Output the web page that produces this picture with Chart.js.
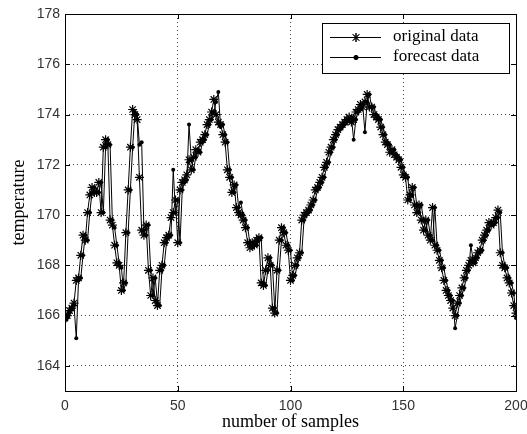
<!DOCTYPE html>
<html>
<head>
<meta charset="utf-8">
<script src="https://cdn.jsdelivr.net/npm/chart.js@4.4.1/dist/chart.umd.min.js"></script>
<style>
  body { margin: 0; background: #fff; }
  #wrap { width: 527px; height: 434px; }
</style>
</head>
<body>
<div id="wrap"><canvas id="myChart" width="527" height="434"></canvas></div>
<script>
// sample values, index = sample number (0..200)
const originalData = [
    165.9, 166.0, 166.2, 166.3, 166.5, 167.4, 167.5, 168.4, 169.2, 169.0,
    170.1, 170.8, 171.1, 170.9, 170.9, 171.3, 170.1, 172.7, 173.0, 172.8,
    169.8, 169.6, 168.8, 168.1, 168.0, 167.0, 167.3, 169.3, 171.0, 172.7,
    174.2, 174.0, 173.8, 171.5, 169.4, 169.2, 169.6, 167.8, 166.8, 167.5,
    166.6, 166.4, 167.8, 168.0, 168.9, 169.1, 169.2, 169.9, 170.1, 170.6,
    168.9, 171.0, 171.3, 171.4, 171.6, 172.2, 171.8, 172.3, 172.6, 172.5,
    172.9, 173.0, 173.2, 173.6, 173.8, 174.1, 174.6, 174.0, 173.7, 173.6,
    173.2, 172.9, 171.8, 171.5, 170.9, 171.2, 170.3, 170.1, 170.0, 169.8,
    169.5, 168.9, 168.7, 168.9, 168.8, 169.0, 169.1, 167.3, 167.2, 167.8,
    168.3, 168.0, 166.3, 166.1, 167.8, 169.0, 169.5, 169.3, 168.8, 168.6,
    167.4, 167.6, 168.0, 168.3, 168.5, 169.8, 170.0, 170.1, 170.2, 170.4,
    170.6, 171.0, 171.1, 171.3, 171.5, 171.9, 172.1, 172.5, 172.7, 173.0,
    173.2, 173.4, 173.5, 173.6, 173.7, 173.8, 173.9, 173.7, 173.8, 174.1,
    174.2, 174.4, 174.3, 174.5, 174.8, 174.3, 174.3, 174.0, 173.9, 173.8,
    173.5, 173.2, 172.9, 172.8, 172.5, 172.6, 172.4, 172.3, 172.2, 171.9,
    171.6, 171.5, 170.6, 170.8, 171.1, 170.4, 170.1, 170.4, 169.8, 169.4,
    169.8, 169.2, 169.0, 170.3, 168.8, 168.6, 168.2, 167.9, 167.4, 167.0,
    166.8, 166.6, 166.3, 166.0, 166.5, 166.8, 167.1, 167.5, 167.8, 168.0,
    168.2, 168.1, 168.3, 168.5, 168.6, 169.0, 169.2, 169.4, 169.7, 169.6,
    169.7, 169.9, 170.2, 168.5, 168.0, 167.9, 167.5, 167.3, 166.9, 166.4,
    166.1
];

const forecastData = [
    165.8, 165.9, 166.1, 166.3, 166.4, 165.1, 167.4, 167.5, 168.4, 169.2,
    169.0, 170.1, 170.9, 171.1, 170.9, 170.9, 171.3, 170.1, 172.7, 173.0,
    172.8, 169.8, 169.5, 168.8, 168.1, 167.9, 167.0, 167.3, 169.3, 171.0,
    172.7, 174.1, 174.0, 172.8, 172.9, 169.4, 169.2, 169.6, 167.8, 166.8,
    167.5, 166.5, 166.4, 167.8, 168.0, 168.9, 169.1, 169.2, 171.8, 170.1,
    170.6, 168.9, 171.0, 171.3, 171.4, 173.6, 172.2, 171.8, 172.3, 172.6,
    172.5, 172.9, 173.0, 173.2, 173.6, 173.8, 174.1, 174.5, 174.9, 173.5,
    173.6, 173.2, 172.9, 171.8, 171.5, 170.9, 171.2, 170.3, 170.5, 170.0,
    169.8, 169.5, 168.9, 168.7, 168.9, 168.8, 169.0, 169.1, 167.3, 167.2,
    167.8, 168.3, 168.0, 166.3, 166.1, 167.8, 169.0, 169.5, 169.3, 168.8,
    168.6, 167.4, 167.6, 168.0, 168.3, 168.5, 169.8, 170.0, 170.1, 170.2,
    170.4, 170.6, 171.0, 171.1, 171.3, 171.5, 171.9, 172.1, 172.5, 172.7,
    173.0, 173.2, 173.4, 173.5, 173.6, 173.7, 173.8, 173.9, 173.0, 173.8,
    174.1, 174.2, 174.4, 173.3, 174.5, 174.8, 174.3, 174.3, 174.0, 173.9,
    173.8, 173.5, 173.2, 172.9, 172.8, 172.5, 172.6, 172.4, 172.3, 172.2,
    171.9, 171.6, 171.5, 170.6, 170.8, 171.1, 170.4, 170.1, 170.4, 169.8,
    169.4, 169.8, 169.2, 169.0, 170.3, 168.8, 168.6, 168.2, 167.9, 167.4,
    167.0, 166.8, 166.6, 165.5, 166.0, 166.5, 166.8, 167.1, 167.5, 167.8,
    168.8, 168.2, 168.1, 168.3, 168.5, 168.6, 169.0, 169.2, 169.4, 169.7,
    169.6, 169.7, 169.9, 170.1, 168.5, 168.0, 167.9, 167.5, 167.3, 166.9,
    165.9
];

const xTicks = [0, 50, 100, 150, 200];
const yTicks = [164, 166, 168, 170, 172, 174, 176, 178];
const seriesLabels = ['original data', 'forecast data'];

// matlab style box, inward ticks and legend in the upper right corner
const matlabBox = {
    id: 'matlabBox',
    afterDraw(chart) {
        const { ctx, chartArea: a, scales } = chart;
        ctx.save();
        ctx.strokeStyle = '#000';
        ctx.lineWidth = 1;
        ctx.setLineDash([]);
        ctx.strokeRect(a.left + 0.5, a.top + 0.5, a.right - a.left, a.bottom - a.top);

        const tl = 5;
        ctx.beginPath();
        scales.y.ticks.forEach(t => {
            const py = Math.round(scales.y.getPixelForValue(t.value)) + 0.5;
            ctx.moveTo(a.left, py); ctx.lineTo(a.left + tl, py);
            ctx.moveTo(a.right, py); ctx.lineTo(a.right - tl, py);
        });
        scales.x.ticks.forEach(t => {
            const px = Math.round(scales.x.getPixelForValue(t.value)) + 0.5;
            ctx.moveTo(px, a.bottom); ctx.lineTo(px, a.bottom - tl);
            ctx.moveTo(px, a.top); ctx.lineTo(px, a.top + tl);
        });
        ctx.stroke();

        // legend
        const bx = 322, by = 23, bw = 187, bh = 50;
        ctx.fillStyle = '#fff';
        ctx.fillRect(bx, by, bw, bh);
        ctx.strokeRect(bx + 0.5, by + 0.5, bw, bh);
        ctx.font = '17px "Liberation Serif", "Times New Roman", serif';
        ctx.textBaseline = 'middle';
        const rows = [37, 57];
        chart.data.datasets.forEach((ds, i) => {
            const ry = rows[i] + 0.5;
            ctx.beginPath();
            ctx.moveTo(330, ry); ctx.lineTo(381, ry);
            ctx.stroke();
            Chart.helpers.drawPoint(ctx, {
                pointStyle: ds.pointStyle,
                radius: ds.pointRadius,
                borderWidth: 1
            }, 356, ry);
            ctx.fillStyle = '#000';
            ctx.fill();
            ctx.stroke();
            ctx.fillText(ds.label, 393, rows[i]);
        });
        ctx.restore();
    }
};

const ctx = document.getElementById('myChart');

const data = {
    datasets: [
        {
            label: seriesLabels[0],
            data: originalData.map((v, i) => ({ x: i, y: v })),
            borderColor: '#000',
            backgroundColor: '#000',
            borderWidth: 1,
            pointStyle: 'star',
            pointRadius: 4.5,
            pointBorderWidth: 1.2,
            tension: 0
        },
        {
            label: seriesLabels[1],
            data: forecastData.map((v, i) => ({ x: i, y: v })),
            borderColor: '#000',
            backgroundColor: '#000',
            borderWidth: 1,
            pointStyle: 'circle',
            pointRadius: 2,
            pointBorderWidth: 0,
            tension: 0
        }
    ]
};

const config = {
    type: 'line',
    data: data,
    options: {
        responsive: false,
        animation: false,
        devicePixelRatio: 1,
        layout: { padding: { top: 14, right: 11, left: 0, bottom: 0 } },
        plugins: {
            legend: { display: false },
            tooltip: { enabled: false }
        },
        scales: {
            x: {
                type: 'linear',
                min: 0,
                max: 200,
                afterBuildTicks: (axis) => { axis.ticks = xTicks.map(v => ({ value: v })); },
                afterFit: (axis) => {
                    axis.height = 43;
                    axis.paddingLeft = 0;
                    axis.paddingRight = 0;
                },
                grid: { color: '#444', drawTicks: false },
                border: { display: false, dash: [1, 3] },
                ticks: {
                    padding: 7,
                    color: '#333',
                    font: { family: '"Liberation Sans", Arial, sans-serif', size: 14 }
                },
                title: {
                    display: true,
                    text: 'number of samples',
                    color: '#000',
                    padding: 0,
                    font: { family: '"Liberation Serif", "Times New Roman", serif', size: 18, lineHeight: 1.3 }
                }
            },
            y: {
                type: 'linear',
                min: 163,
                max: 178,
                afterBuildTicks: (axis) => { axis.ticks = yTicks.map(v => ({ value: v })); },
                afterFit: (axis) => { axis.width = 65; },
                grid: { color: '#444', drawTicks: false },
                border: { display: false, dash: [1, 3] },
                ticks: {
                    padding: 5,
                    color: '#333',
                    font: { family: '"Liberation Sans", Arial, sans-serif', size: 14 }
                },
                title: {
                    display: true,
                    text: 'temperature',
                    color: '#000',
                    padding: 0,
                    font: { family: '"Liberation Serif", "Times New Roman", serif', size: 18, lineHeight: 2.1 }
                }
            }
        }
    },
    plugins: [matlabBox]
};

new Chart(ctx, config);
</script>
</body>
</html>
